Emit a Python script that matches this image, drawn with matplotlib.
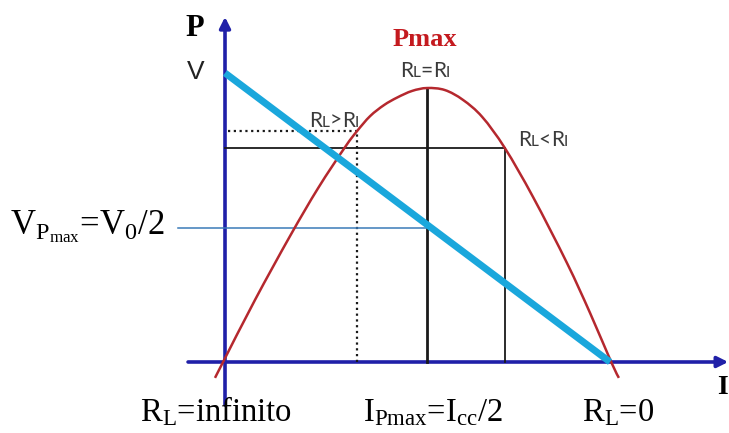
import numpy as np
import matplotlib
matplotlib.use('Agg')
import matplotlib.pyplot as plt
from matplotlib.path import Path
from matplotlib.patches import PathPatch
from matplotlib.offsetbox import TextArea, HPacker, AnnotationBbox

plt.rcParams['mathtext.fontset'] = 'custom'
plt.rcParams['mathtext.rm'] = 'Liberation Serif'
plt.rcParams['mathtext.it'] = 'Liberation Serif:italic'

# current as fraction of Icc, power / voltage as fraction of V
curveI = [-0.026, -0.005, 0.078, 0.169, 0.242, 0.312, 0.343, 0.377, 0.413, 0.447,
          0.486, 0.525, 0.571, 0.618, 0.668, 0.727, 0.800, 0.888, 0.948, 1.003,
          1.023]
curveP = [-0.055, 0.000, 0.215, 0.436, 0.602, 0.744, 0.799, 0.851, 0.889, 0.915,
          0.938, 0.948, 0.941, 0.907, 0.848, 0.740, 0.571, 0.343, 0.170, 0.000,
          -0.055]
lineI = [0.0, 1.0]
lineV = [1.0, 0.0]

iPmax, pMax = 0.525, 0.948
iLow, pLow = 0.727, 0.740      # RL < RI
iHigh, pHigh = 0.343, 0.799    # RL > RI
vPmax = 0.464

navy = '#2020a8'
red = '#b5282e'
cyan = '#1aa7dc'
gray = '#3a3a3a'


def smooth_path(xs, ys):
    # Catmull-Rom through the points, as cubic Bezier segments
    pts = np.column_stack([xs, ys])
    verts = [pts[0]]
    codes = [Path.MOVETO]
    for k in range(len(pts) - 1):
        p0 = pts[max(k - 1, 0)]
        p1, p2 = pts[k], pts[k + 1]
        p3 = pts[min(k + 2, len(pts) - 1)]
        verts += [p1 + (p2 - p0) / 6, p2 - (p3 - p1) / 6, p2]
        codes += [Path.CURVE4] * 3
    return Path(verts, codes)


fig = plt.figure(figsize=(7.29, 4.33), dpi=100)
ax = fig.add_axes([0, 0, 1, 1])
ax.set_xlim(-0.5844, 1.309)
ax.set_ylim(-0.2457, 1.2526)
ax.axis('off')

# axes with arrows
ax.annotate('', xy=(0, 1.194), xytext=(0, -0.149),
            arrowprops=dict(arrowstyle='-|>', color=navy, lw=2.6,
                            mutation_scale=16, shrinkA=0, shrinkB=0), zorder=2)
ax.annotate('', xy=(1.307, 0), xytext=(-0.096, 0),
            arrowprops=dict(arrowstyle='-|>', color=navy, lw=2.6,
                            mutation_scale=16, shrinkA=0, shrinkB=0), zorder=2)

# guide lines
ax.plot([iPmax, iPmax], [0, pMax], color='#1a1a1a', lw=2.0, zorder=3)
ax.plot([0, iLow], [pLow, pLow], color='#1a1a1a', lw=1.3, zorder=3)
ax.plot([iLow, iLow], [0, pLow], color='#1a1a1a', lw=1.3, zorder=3)
ax.plot([0.008, iHigh], [pHigh, pHigh], color='#1a1a1a', lw=1.6,
        ls=(0, (1, 1.6)), zorder=3)
ax.plot([iHigh, iHigh], [0, pHigh], color='#1a1a1a', lw=1.6,
        ls=(0, (1, 1.6)), zorder=3)
ax.plot([-0.122, 1 - vPmax], [vPmax, vPmax], color='#3a7ab8', lw=1.1, zorder=3)

# power curve and load line
ax.add_patch(PathPatch(smooth_path(curveI, curveP), facecolor='none',
                       edgecolor=red, lw=1.8, zorder=4))
ax.plot(lineI, lineV, color=cyan, lw=5.0, zorder=5, solid_capstyle='butt')

serif = 'Liberation Serif'
fig.text(185 / 729, 1 - 36 / 433, 'P', family=serif, weight='bold',
         fontsize=22, color='black')
fig.text(187 / 729, 1 - 79 / 433, 'V', family='Liberation Sans',
         fontsize=19, color='#222222')
fig.text(425 / 729, 1 - 46 / 433, 'Pmax', family=serif, weight='bold',
         fontsize=19, color='#c41a1f', ha='center')

fig.text(10 / 729, 1 - 234 / 433, r'V$_{\mathrm{P_{max}}}$=V$_{\mathrm{0}}$/2',
         family=serif, fontsize=25, color='black')
fig.text(140 / 729, 1 - 421 / 433, r'R$_{\mathrm{L}}$=infinito',
         family=serif, fontsize=23.5, color='black')
fig.text(363 / 729, 1 - 421 / 433, r'I$_{\mathrm{Pmax}}$=I$_{\mathrm{cc}}$/2',
         family=serif, fontsize=23.5, color='black')
fig.text(582 / 729, 1 - 421 / 433, r'R$_{\mathrm{L}}$=0',
         family=serif, fontsize=23.5, color='black')
fig.text(717 / 729, 1 - 394 / 433, 'I', family=serif, weight='bold',
         fontsize=20, color='black')


def rl_label(parts, x, y):
    boxes = [TextArea(s, textprops=dict(fontsize=fs, color=gray, family='Lato'))
             for s, fs in parts]
    pack = HPacker(children=boxes, align='baseline', pad=0, sep=0)
    ab = AnnotationBbox(pack, (x / 729, 1 - y / 433), xycoords='figure fraction',
                        frameon=False, box_alignment=(0.5, 0.5), pad=0)
    fig.add_artist(ab)


big, small = 15, 11
rl_label([('R', big), ('L', small), ('=', big), ('R', big), ('I', small)], 425, 71)
rl_label([('R', big), ('L', small), ('>', big), ('R', big), ('I', small)], 334, 121)
rl_label([('R', big), ('L', small), ('<', big), ('R', big), ('I', small)], 543, 140)

fig.savefig('out.png', dpi=100)
